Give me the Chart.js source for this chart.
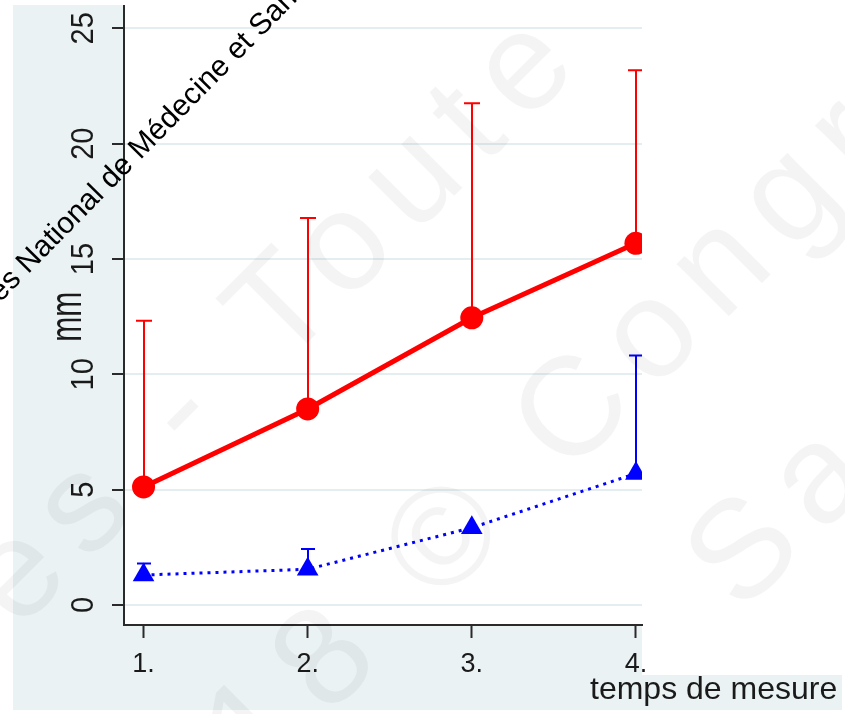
<!DOCTYPE html>
<html><head><meta charset="utf-8">
<script src="https://cdn.jsdelivr.net/npm/chart.js@4.4.0/dist/chart.umd.min.js"></script>
<style>html,body{margin:0;padding:0;background:#fff;overflow:hidden}#wrap{width:845px;height:714px;position:relative}</style>
</head><body><div id="wrap"><canvas id="c" width="845" height="714"></canvas></div>
<script>
const categories = [1, 2, 3, 4];
const tickLabelsX = ['1.', '2.', '3.', '4.'];
const tickValuesY = [0, 5, 10, 15, 20, 25];
const redMeans = [5.12, 8.5, 12.45, 15.68];
const redUpper = [12.32, 16.78, 21.75, 23.18];
const blueMeans = [1.3, 1.55, 3.35, 5.7];
const blueUpper = [1.8, 2.43, null, 10.82];
const yTitle = 'mm';
const xTitle = 'temps de mesure';
const stampText = 'es National de Médecine et Santé';
const watermarkLines = ['es - Toute', '2018 © Congrès', 'Santé'];

const RED = '#ff0000', BLUE = '#0000ff', BG = 'rgb(234,242,243)', INK = '#1a1a1a', AXIS = '#2a2a2a';
const FONT = '"Liberation Sans", Arial, sans-serif';

const bgPlugin = {
  id: 'bg',
  beforeDraw(chart) {
    const ctx = chart.ctx, a = chart.chartArea;
    ctx.save();
    ctx.fillStyle = '#ffffff'; ctx.fillRect(0, 0, chart.width, chart.height);
    ctx.fillStyle = BG; ctx.fillRect(13, 5, a.right - 13, 705);
    ctx.fillStyle = '#ffffff'; ctx.fillRect(a.left, 0, a.right - a.left, a.bottom);
    ctx.fillStyle = BG; ctx.fillRect(590, 675, 252, 35);
    ctx.restore();
  }
};

const errPlugin = {
  id: 'err',
  beforeDatasetsDraw(chart) {
    const ctx = chart.ctx, xs = chart.scales.x, ys = chart.scales.y, a = chart.chartArea;
    ctx.save();
    ctx.beginPath(); ctx.rect(a.left, a.top, a.right - a.left, a.bottom - a.top); ctx.clip();
    const draw = (means, ups, color, cap) => {
      ctx.strokeStyle = color; ctx.lineWidth = 2;
      categories.forEach((c, i) => {
        if (ups[i] == null) return;
        const x = Math.round(xs.getPixelForValue(c)), y0 = ys.getPixelForValue(means[i]), y1 = ys.getPixelForValue(ups[i]);
        ctx.beginPath(); ctx.moveTo(x, y0); ctx.lineTo(x, y1);
        ctx.moveTo(x - cap / 2, y1); ctx.lineTo(x + cap / 2, y1); ctx.stroke();
      });
    };
    draw(redMeans, redUpper, RED, 16);
    draw(blueMeans, blueUpper, BLUE, 14);
    ctx.restore();
  }
};

const textPlugin = {
  id: 'texts',
  afterDraw(chart) {
    const ctx = chart.ctx, xs = chart.scales.x, ys = chart.scales.y;
    ctx.save();
    ctx.fillStyle = INK;
    // y tick labels (rotated)
    ctx.font = '29px ' + FONT; ctx.textAlign = 'center'; ctx.textBaseline = 'middle';
    tickValuesY.forEach(v => {
      ctx.save(); ctx.translate(84, ys.getPixelForValue(v)); ctx.rotate(-Math.PI / 2); ctx.scale(1, 1.08);
      ctx.fillText(String(v), 0, 0); ctx.restore();
    });
    // y title
    ctx.save(); ctx.font = '30px ' + FONT; ctx.textAlign = 'center'; ctx.textBaseline = 'alphabetic';
    ctx.translate(70, (ys.getPixelForValue(10) + ys.getPixelForValue(15)) / 2); ctx.rotate(-Math.PI / 2); ctx.scale(1, 1.45);
    ctx.fillText(yTitle, 0, 7.8); ctx.restore();
    // x tick labels
    ctx.font = '27px ' + FONT; ctx.textAlign = 'center'; ctx.textBaseline = 'alphabetic';
    categories.forEach((c, i) => ctx.fillText(tickLabelsX[i], xs.getPixelForValue(c), 672));
    // x title
    ctx.font = '32px ' + FONT; ctx.textAlign = 'left';
    ctx.fillText(xTitle, 590, 699);
    // grey watermark
    ctx.fillStyle = 'rgba(0,0,0,0.045)';
    ctx.font = '140px ' + FONT; ctx.textAlign = 'left'; ctx.textBaseline = 'alphabetic';
    try { ctx.letterSpacing = '20px'; } catch (e) {}
    const origins = [[18, 632], [120, 925], [741, 615]];
    watermarkLines.forEach((t, i) => {
      ctx.save(); ctx.translate(origins[i][0], origins[i][1]); ctx.rotate(-Math.PI / 4);
      ctx.fillText(t, 0, 0); ctx.restore();
    });
    try { ctx.letterSpacing = '0px'; } catch (e) {}
    // black stamp text
    ctx.fillStyle = '#000';
    ctx.font = '30px ' + FONT;
    ctx.save(); ctx.translate(0, 303); ctx.rotate(-45.5 * Math.PI / 180);
    ctx.fillText(stampText, 0, 0); ctx.restore();
    ctx.restore();
  }
};

const toPts = (vals) => categories.map((c, i) => ({ x: c, y: vals[i] }));

new Chart(document.getElementById('c'), {
  type: 'line',
  data: {
    datasets: [
      {
        label: 'rouge', data: toPts(redMeans), borderColor: RED, backgroundColor: RED,
        borderWidth: 5, pointStyle: 'circle', pointRadius: 11.5, pointBorderWidth: 0,
        pointBackgroundColor: RED, clip: 0, tension: 0
      },
      {
        label: 'bleu', data: toPts(blueMeans), borderColor: BLUE, backgroundColor: BLUE,
        borderWidth: 3, borderDash: [3, 5], pointStyle: 'triangle', pointRadius: 12.5, pointBorderWidth: 0,
        pointBackgroundColor: BLUE, clip: 0, tension: 0
      }
    ]
  },
  options: {
    responsive: false, animation: false, devicePixelRatio: 1,
    layout: { autoPadding: false, padding: { left: 112, right: 203, top: 6, bottom: 76 } },
    plugins: { legend: { display: false }, tooltip: { enabled: false } },
    scales: {
      x: {
        type: 'linear', min: 0.881, max: 4.037,
        afterBuildTicks: (s) => { s.ticks = categories.map(v => ({ value: v })); },
        ticks: { display: false },
        grid: { drawOnChartArea: false, drawTicks: true, tickLength: 13, tickColor: AXIS, tickWidth: 2 },
        border: { display: true, color: AXIS, width: 2 }
      },
      y: {
        type: 'linear', min: -0.867, max: 25.97,
        afterBuildTicks: (s) => { s.ticks = tickValuesY.map(v => ({ value: v })); },
        ticks: { display: false },
        grid: { color: '#e4eef1', lineWidth: 2, drawTicks: true, tickLength: 12, tickColor: AXIS, tickWidth: 2 },
        border: { display: true, color: AXIS, width: 2 }
      }
    }
  },
  plugins: [bgPlugin, errPlugin, textPlugin]
});
</script>
</body></html>
